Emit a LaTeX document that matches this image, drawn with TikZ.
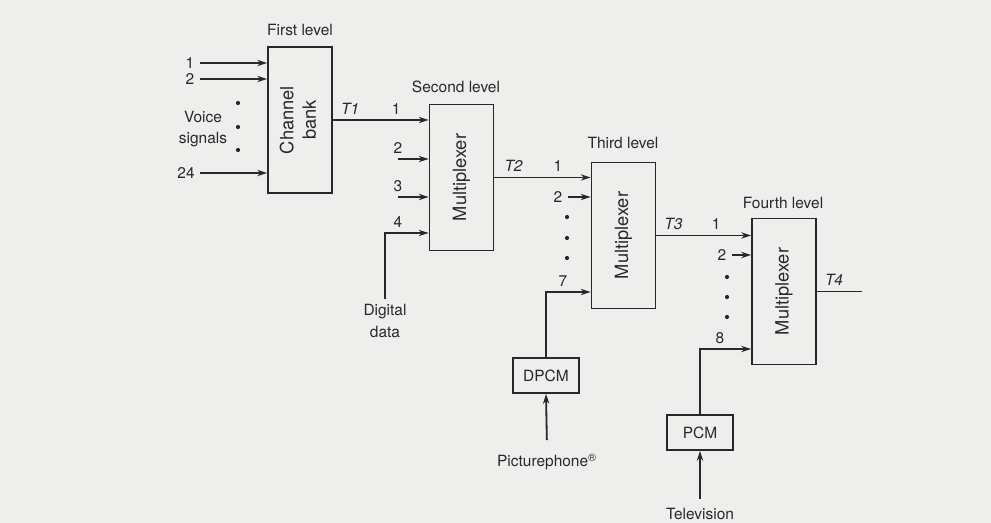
\documentclass[tikz,border=0pt]{standalone}
\usepackage{fontspec}
\setmainfont{TeX Gyre Heros}
\usepackage{xcolor}
\usepackage{tikz}
\usetikzlibrary{arrows.meta}

\definecolor{paper}{RGB}{238,238,236}
\definecolor{ink}{RGB}{40,40,40}

\begin{document}
\begin{tikzpicture}[
        x=0.025cm, y=-0.025cm,
        draw=ink, text=ink, line width=1.3pt,
        font=\fontsize{11}{13}\selectfont,
        >={Stealth[length=7pt, width=4.5pt]},
        block/.style={rectangle, draw, minimum width=1.6cm, minimum height=3.65cm, align=center, font=\fontsize{13}{16}\selectfont},
        coder/.style={rectangle, draw, minimum width=1.65cm, minimum height=0.875cm},
        twoline/.style={align=center, font=\fontsize{11}{15.5}\selectfont},
    ]
        \path[use as bounding box, fill=paper] (0,0) rectangle (991,523);

        % Blocks
        \node[block] (bank) at (300,120) {\rotatebox{90}{\begin{tabular}{@{}c@{}}Channel\\bank\end{tabular}}};
        \node[block] (mux2) at (461.5,177.5) {\rotatebox{90}{Multiplexer}};
        \node[block] (mux3) at (623.5,235.5) {\rotatebox{90}{Multiplexer}};
        \node[block] (mux4) at (784,291.5) {\rotatebox{90}{Multiplexer}};
        \node[coder] (dpcm) at (546,375.5) {DPCM};
        \node[coder] (pcm) at (700,432.5) {PCM};

        % Levels
        \node (lvl1) at (300,30) {First level};
        \node (lvl2) at (456,87) {Second level};
        \node (lvl3) at (623,143) {Third level};
        \node (lvl4) at (783,203) {Fourth level};

        % Sources
        \node (v1) at (190,63) {1};
        \node (v2) at (190,79) {2};
        \node (v24) at (186,173) {24};
        \node[twoline] (voice) at (203,129) {Voice\\signals};
        \node[twoline] (dig) at (385,321) {Digital\\data};
        \node (phone) at (547,462) {Picturephone\textsuperscript{\textregistered}};
        \node (tv) at (700,514) {Television};

        % First level
        \draw[->] (v1) -- (v1 -| bank.west);
        \draw[->] (v2) -- (v2 -| bank.west);
        \draw[->] (v24) -- (v24 -| bank.west);
        \fill[ink] (238,103) circle (1.5pt) (238,127) circle (1.5pt) (238,150) circle (1.5pt);

        % Second level
        \coordinate (r2a) at (398,159);
        \coordinate (r2b) at (398,197);
        \coordinate (r2c) at (398,233);
        \draw[->] (bank.east) -- (bank.east -| mux2.west) node[pos=0.18, above] {\textit{T1}} node[pos=0.66, above] {1};
        \draw[->] (r2a) -- (r2a -| mux2.west) node[at start, above] {2};
        \draw[->] (r2b) -- (r2b -| mux2.west) node[at start, above] {3};
        \draw[->] (dig.north) |- (r2c -| mux2.west);
        \node[above] (n4) at (r2c) {4};

        % Third level
        \node (m3n2) at (558,197) {2};
        \coordinate (r7) at (563,292);
        \draw[->] (mux2.east) -- (mux2.east -| mux3.west) node[pos=0.2, above] {\textit{T2}} node[pos=0.66, above] {1};
        \draw[->] (m3n2) -- (m3n2 -| mux3.west);
        \fill[ink] (567,217) circle (1.5pt) (567,238) circle (1.5pt) (567,258) circle (1.5pt);
        \draw[->] (dpcm.north) |- (r7 -| mux3.west);
        \node[above] (n7) at (r7) {7};
        \draw[->, shorten <=2mm] (phone.north) -- (dpcm.south);

        % Fourth level
        \node (m4n2) at (722,255) {2};
        \coordinate (r8) at (720,349);
        \draw[->] (mux3.east) -- (mux3.east -| mux4.west) node[pos=0.18, above] {\textit{T3}} node[pos=0.63, above] {1};
        \draw[->] (m4n2) -- (m4n2 -| mux4.west);
        \fill[ink] (727,277) circle (1.5pt) (727,297) circle (1.5pt) (727,317) circle (1.5pt);
        \draw[->] (pcm.north) |- (r8 -| mux4.west);
        \node[above] (n8) at (r8) {8};
        \draw[->, shorten <=1mm] (tv.north) -- (pcm.south);

        % Output
        \coordinate (t4) at (862,293);
        \draw (mux4.east) -- (mux4.east -| t4) node[pos=0.38, above] {\textit{T4}};
    \end{tikzpicture}
\end{document}
